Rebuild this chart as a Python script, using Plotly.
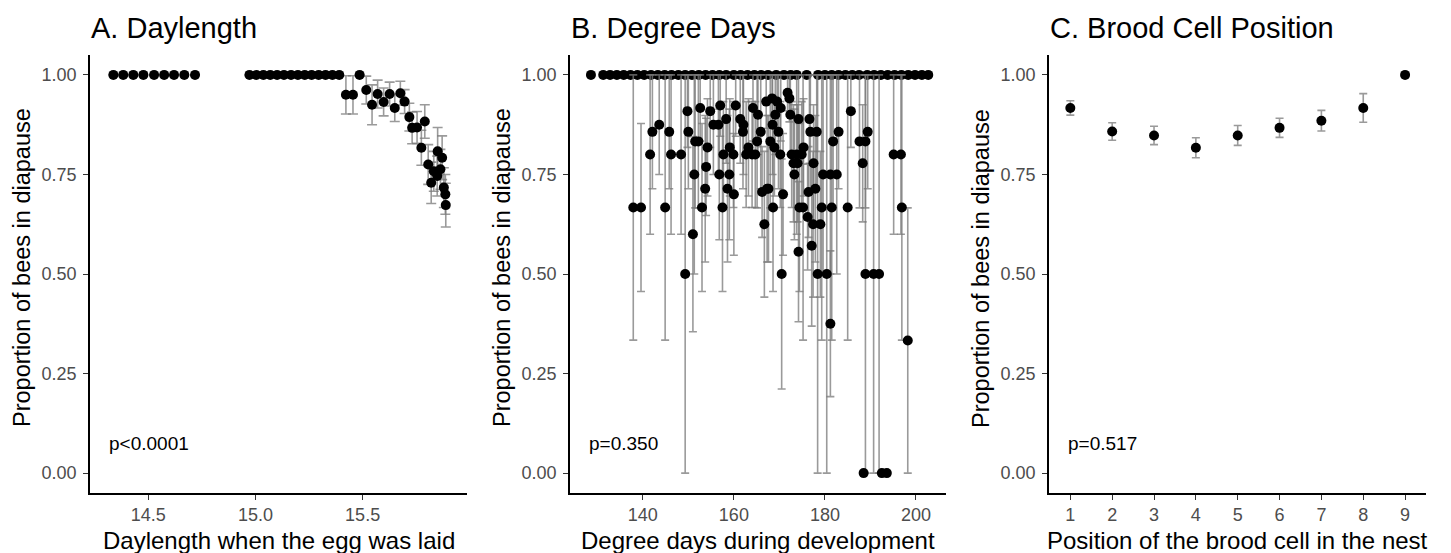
import plotly.graph_objects as go

FONT = "Liberation Sans, Arial, Helvetica, sans-serif"

# ---------------- Panel A: Daylength ----------------
a_x = [14.337, 14.383, 14.430, 14.477, 14.527, 14.574, 14.620, 14.668, 14.718,
       14.972, 15.004, 15.037, 15.069, 15.101, 15.133, 15.166, 15.198, 15.230,
       15.262, 15.295, 15.327, 15.359, 15.391,
       15.422, 15.455, 15.486, 15.517, 15.544, 15.570, 15.598, 15.626, 15.650,
       15.676, 15.696, 15.718, 15.731, 15.754, 15.774, 15.790, 15.806, 15.820,
       15.832, 15.848, 15.850, 15.863, 15.871, 15.879, 15.886, 15.888]
a_y = [1.0, 1.0, 1.0, 1.0, 1.0, 1.0, 1.0, 1.0, 1.0,
       1.0, 1.0, 1.0, 1.0, 1.0, 1.0, 1.0, 1.0, 1.0,
       1.0, 1.0, 1.0, 1.0, 1.0,
       0.950, 0.950, 1.000, 0.962, 0.925, 0.952, 0.932, 0.952, 0.917,
       0.954, 0.933, 0.894, 0.867, 0.868, 0.817, 0.883, 0.775, 0.729,
       0.758, 0.746, 0.808, 0.763, 0.792, 0.717, 0.700, 0.673]
a_err = [0, 0, 0, 0, 0, 0, 0, 0, 0,
         0, 0, 0, 0, 0, 0, 0, 0, 0,
         0, 0, 0, 0, 0,
         0.048, 0.048, 0.0, 0.035, 0.050, 0.035, 0.035, 0.030, 0.034,
         0.030, 0.030, 0.035, 0.040, 0.040, 0.044, 0.042, 0.050, 0.052,
         0.050, 0.050, 0.060, 0.050, 0.055, 0.050, 0.050, 0.055]

# ---------------- Panel B: Degree days ----------------
b_top_x = [128.6, 131.3, 132.8, 134.3, 135.8, 137.3, 138.8, 140.3, 141.8, 143.3,
           144.8, 146.3, 147.8, 149.3, 150.8, 152.3, 153.8, 155.3, 156.8, 158.3,
           160.0, 161.5, 163.0, 164.5, 166.0, 167.5, 169.3, 171.0, 172.5, 173.8,
           176.0, 178.5, 180.0, 181.5, 183.0, 184.5, 186.0, 187.5, 189.3, 190.8,
           192.3, 193.8, 195.3, 196.8, 198.3, 199.8, 201.3, 202.7]
b_x = [137.9, 139.6, 141.6, 142.1, 143.6, 144.9, 145.8, 146.2, 148.4, 149.3,
       149.8, 150.0, 151.0, 151.3, 151.5, 152.2, 152.6, 153.0, 153.7, 153.9,
       154.2, 154.8, 155.5, 156.6, 157.0, 156.8, 157.5, 157.7, 158.3, 158.6,
       159.0, 159.1, 159.9, 160.0, 160.4, 161.4, 162.1, 162.0, 162.7, 164.0,
       164.7, 163.2, 164.2, 165.3, 165.1, 165.9, 166.2, 166.7, 167.3, 167.1,
       168.4, 169.5, 169.1, 170.3, 171.8, 172.2, 172.4, 174.2, 176.6, 168.5,
       169.8, 168.0, 168.9, 170.2, 172.7, 173.8, 174.9, 173.1, 174.0, 175.3,
       176.8, 178.2, 177.5, 173.3, 179.6, 181.2, 182.6, 181.8, 183.0, 167.6,
       170.8, 176.4, 177.9, 168.6, 174.4, 175.2, 179.3, 181.5, 185.0, 176.2,
       177.4, 179.0, 177.1, 174.2, 170.5, 178.4, 180.4, 188.9, 190.7, 191.9,
       185.7, 187.6, 188.9, 189.4, 188.3, 195.1, 196.7, 196.9, 181.2, 198.2,
       188.5, 192.5, 193.6]
b_y = [0.667, 0.667, 0.800, 0.857, 0.875, 0.667, 0.857, 0.800, 0.800, 0.500,
       0.909, 0.857, 0.600, 0.750, 0.833, 0.833, 0.917, 0.667, 0.714, 0.769,
       0.818, 0.909, 0.875, 0.875, 0.923, 0.750, 0.667, 0.800, 0.889, 0.714,
       0.750, 0.818, 0.800, 0.700, 0.923, 0.889, 0.875, 0.857, 0.800, 0.800,
       0.800, 0.818, 0.917, 0.900, 0.833, 0.857, 0.706, 0.625, 0.714, 0.933,
       0.941, 0.933, 0.900, 0.917, 0.955, 0.941, 0.900, 0.889, 0.889, 0.875,
       0.857, 0.833, 0.818, 0.800, 0.800, 0.800, 0.800, 0.778, 0.778, 0.818,
       0.857, 0.857, 0.778, 0.750, 0.750, 0.750, 0.750, 0.833, 0.857, 0.714,
       0.700, 0.706, 0.714, 0.667, 0.667, 0.667, 0.667, 0.667, 0.667, 0.643,
       0.625, 0.625, 0.571, 0.556, 0.500, 0.500, 0.500, 0.500, 0.500, 0.500,
       0.909, 0.833, 0.833, 0.857, 0.778, 0.800, 0.800, 0.667, 0.375, 0.333,
       0.0, 0.0, 0.0]
b_err = [0.333, 0.211, 0.200, 0.143, 0.125, 0.333, 0.143, 0.200, 0.200, 0.500,
         0.091, 0.143, 0.245, 0.250, 0.167, 0.167, 0.083, 0.211, 0.184, 0.122,
         0.122, 0.091, 0.125, 0.125, 0.077, 0.164, 0.211, 0.133, 0.111, 0.184,
         0.164, 0.122, 0.133, 0.153, 0.077, 0.111, 0.125, 0.143, 0.133, 0.133,
         0.133, 0.122, 0.083, 0.100, 0.167, 0.143, 0.114, 0.183, 0.184, 0.067,
         0.059, 0.067, 0.100, 0.083, 0.045, 0.059, 0.100, 0.111, 0.111, 0.125,
         0.143, 0.167, 0.122, 0.133, 0.133, 0.200, 0.133, 0.147, 0.147, 0.122,
         0.143, 0.143, 0.147, 0.164, 0.250, 0.250, 0.250, 0.167, 0.143, 0.184,
         0.153, 0.114, 0.184, 0.211, 0.211, 0.333, 0.333, 0.333, 0.333, 0.133,
         0.183, 0.183, 0.202, 0.176, 0.289, 0.500, 0.500, 0.500, 0.500, 0.500,
         0.091, 0.167, 0.167, 0.143, 0.147, 0.200, 0.200, 0.333, 0.183, 0.333,
         0.0, 0.0, 0.0]

# ---------------- Panel C: Brood cell position ----------------
c_x = [1, 2, 3, 4, 5, 6, 7, 8, 9]
c_y = [0.917, 0.858, 0.848, 0.817, 0.848, 0.867, 0.885, 0.917, 1.0]
c_err = [0.018, 0.022, 0.023, 0.025, 0.025, 0.024, 0.026, 0.036, 0.0]

y_ticks = [0.0, 0.25, 0.5, 0.75, 1.0]
y_ticktext = ["0.00", "0.25", "0.50", "0.75", "1.00"]
a_ticks = [14.5, 15.0, 15.5]
a_ticktext = ["14.5", "15.0", "15.5"]
b_ticks = [140, 160, 180, 200]
c_ticks = [1, 2, 3, 4, 5, 6, 7, 8, 9]

titles = ["A. Daylength", "B. Degree Days", "C. Brood Cell Position"]
xtitles = ["Daylength when the egg was laid", "Degree days during development",
           "Position of the brood cell in the nest"]
ytitle = "Proportion of bees in diapause"
pvals = ["p<0.0001", "p=0.350", "p=0.517"]

# page body has an 8px margin, so the figure is slightly smaller than the window
OFF = 8
W, H = 1451 - OFF, 553 - OFF
ERRC = "rgba(120,120,120,0.75)"


def px_x(p):
    return (p - OFF) / W


def px_y(p):
    return 1 - (p - OFF) / H


fig = go.Figure()


def add_pts(x, y, err, xa, ya, capw):
    fig.add_trace(go.Scatter(
        x=x, y=y, mode="markers", xaxis=xa, yaxis=ya,
        marker=dict(color="black", size=10, line=dict(width=0)),
        error_y=dict(type="data", array=err, visible=True, color=ERRC,
                     thickness=1.6, width=capw),
        showlegend=False, hoverinfo="x+y"))


add_pts(a_x, a_y, a_err, "x", "y", 5)
fig.add_trace(go.Scatter(x=b_top_x, y=[1.0] * len(b_top_x), mode="markers",
                         xaxis="x2", yaxis="y2",
                         marker=dict(color="black", size=10, line=dict(width=0)),
                         showlegend=False))
add_pts(b_x, b_y, b_err, "x2", "y2", 4)
add_pts(c_x, c_y, c_err, "x3", "y3", 4)

# panel pixel boxes (in window pixels)
panels = [(90, 467), (570, 946), (1049, 1426)]
top_px, bot_px = 55, 493
ydom = [px_y(bot_px), px_y(top_px)]

axis_common = dict(showgrid=False, zeroline=False, showline=True, linecolor="black",
                   linewidth=1.6, ticks="outside", ticklen=5, tickwidth=1.2,
                   tickcolor="#333333",
                   tickfont=dict(family=FONT, size=18, color="#4D4D4D"))

xranges = [[14.228, 15.987], [124.0, 206.6], [0.49, 9.5]]
xtickvals = [a_ticks, b_ticks, c_ticks]
xticktexts = [a_ticktext, [str(v) for v in b_ticks], [str(v) for v in c_ticks]]

layout = dict(
    width=W, height=H, paper_bgcolor="white", plot_bgcolor="white",
    margin=dict(l=0, r=0, t=0, b=0), font=dict(family=FONT),
    showlegend=False)

annotations = []
for i, (l, r) in enumerate(panels):
    sfx = "" if i == 0 else str(i + 1)
    layout["xaxis" + sfx] = dict(axis_common, domain=[px_x(l), px_x(r)], range=xranges[i],
                                 tickvals=xtickvals[i], ticktext=xticktexts[i],
                                 ticklabelstandoff=0, anchor="y" + sfx)
    layout["yaxis" + sfx] = dict(axis_common, domain=ydom, range=[-0.05, 1.05],
                                 tickvals=y_ticks, ticktext=y_ticktext,
                                 ticklabelstandoff=3, anchor="x" + sfx)
    # panel title
    annotations.append(dict(text=titles[i], x=px_x(l - 1), y=px_y(28), xref="paper",
                            yref="paper", xanchor="left", yanchor="middle",
                            showarrow=False, font=dict(family=FONT, size=29, color="black")))
    # x title
    annotations.append(dict(text=xtitles[i], x=px_x((l + r) / 2), y=px_y(540),
                            xref="paper", yref="paper", xanchor="center",
                            yanchor="middle", showarrow=False,
                            font=dict(family=FONT, size=24, color="black")))
    # y title
    annotations.append(dict(text=ytitle, x=px_x(l - 68), y=px_y(268),
                            xref="paper", yref="paper", xanchor="center",
                            yanchor="middle", textangle=-90, showarrow=False,
                            font=dict(family=FONT, size=23.5, color="black")))
    # p value
    annotations.append(dict(text=pvals[i], x=px_x(l + 17), y=0.075,
                            xref="paper", yref="y" + sfx, xanchor="left",
                            yanchor="middle", showarrow=False,
                            font=dict(family=FONT, size=19, color="black")))

layout["annotations"] = annotations
fig.update_layout(**layout)
fig.write_html("out.html")
